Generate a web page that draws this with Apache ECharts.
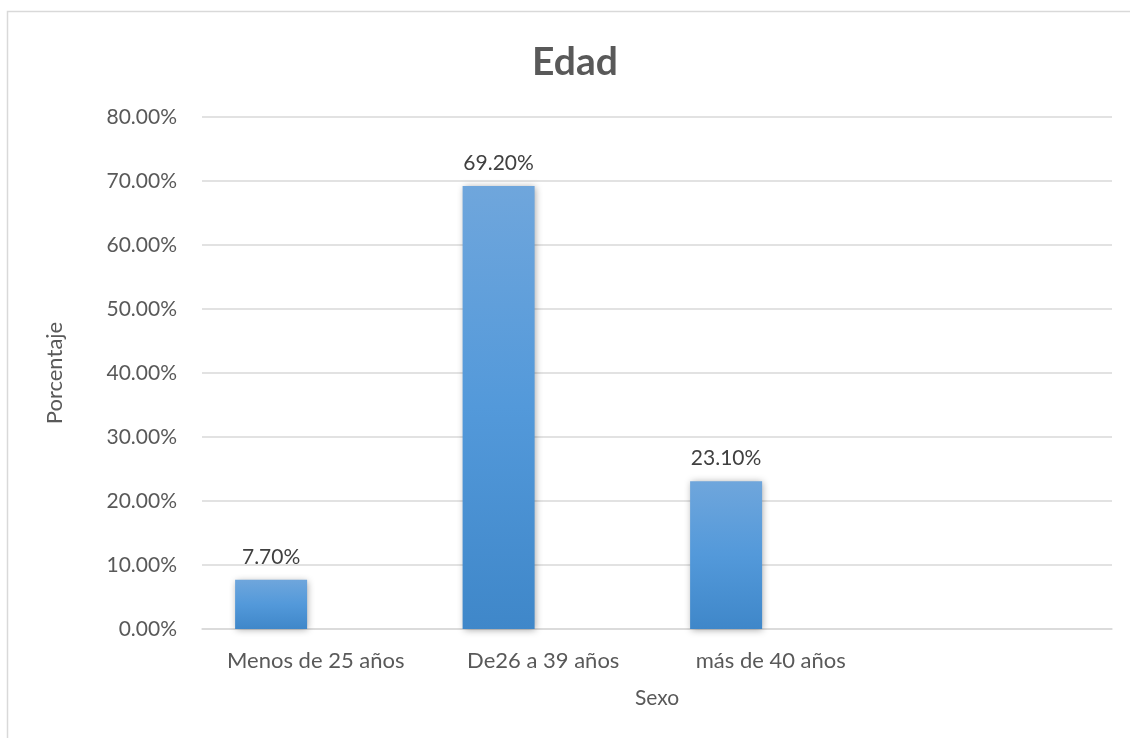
<!DOCTYPE html>
<html>
<head>
<meta charset="utf-8">
<script src="https://cdn.jsdelivr.net/npm/echarts@6/dist/echarts.min.js"></script>
<style>html,body{margin:0;padding:0;background:#fff}#c{width:1130px;height:738px}</style>
</head>
<body>
<div id="c"></div>
<script>
const categories = ['Menos de 25 años', 'De26 a 39 años', 'más de 40 años', ''];
const edadValues = [7.7, 69.2, 23.1, null];
const emptySeries = [null, null, null, null];
const yTicks = [0, 10, 20, 30, 40, 50, 60, 70, 80];

const FONT = 'Lato, "Open Sans", sans-serif';
const chart = echarts.init(document.getElementById('c'), null, {renderer: 'canvas'});
chart.setOption({
  animation: false,
  backgroundColor: '#fff',
  graphic: [{
    type: 'rect', shape: {x: 7.5, y: 11.5, width: 1140, height: 740},
    style: {fill: 'none', stroke: '#d9d9d9', lineWidth: 1.5}, silent: true, z: -1
  }],
  title: {
    text: 'Edad', left: 570, top: 38, textAlign: 'center',
    textStyle: {fontFamily: FONT, fontSize: 39, fontWeight: 'bold', color: '#595959'}
  },
  grid: {left: 202, right: 18, top: 117, bottom: 109, containLabel: false},
  xAxis: {
    type: 'category', data: categories,
    name: 'Sexo', nameLocation: 'middle', nameGap: 59,
    nameTextStyle: {fontFamily: FONT, fontSize: 21, color: '#595959'},
    axisLine: {show: true, lineStyle: {color: '#d9d9d9', width: 1.5}},
    axisTick: {show: false},
    axisLabel: {fontFamily: FONT, fontSize: 22, color: '#595959', margin: 21, interval: 0}
  },
  yAxis: {
    type: 'value', min: yTicks[0], max: yTicks[yTicks.length - 1], interval: 10,
    name: 'Porcentaje', nameLocation: 'middle', nameGap: 136, nameRotate: 90,
    nameTextStyle: {fontFamily: FONT, fontSize: 22, color: '#595959'},
    axisLine: {show: false}, axisTick: {show: false},
    splitLine: {lineStyle: {color: '#d9d9d9', width: 1.5}},
    axisLabel: {fontFamily: FONT, fontSize: 21, color: '#595959', margin: 25,
      formatter: v => v.toFixed(2) + '%'}
  },
  series: [{
    type: 'bar', data: edadValues, barWidth: 72, barGap: '24%',
    itemStyle: {
      color: new echarts.graphic.LinearGradient(0, 0, 0, 1, [
        {offset: 0, color: '#6fa6dc'}, {offset: 0.5, color: '#5399da'}, {offset: 1, color: '#3f87c9'}
      ]),
      shadowColor: 'rgba(0,0,0,0.35)', shadowBlur: 7, shadowOffsetX: 1, shadowOffsetY: 1
    },
    label: {show: true, position: 'top', distance: 12, fontFamily: FONT, fontSize: 21, color: '#404040',
      formatter: p => p.value.toFixed(2) + '%'}
  }, {
    type: 'bar', data: emptySeries, barWidth: 72
  }]
});
</script>
</body>
</html>
